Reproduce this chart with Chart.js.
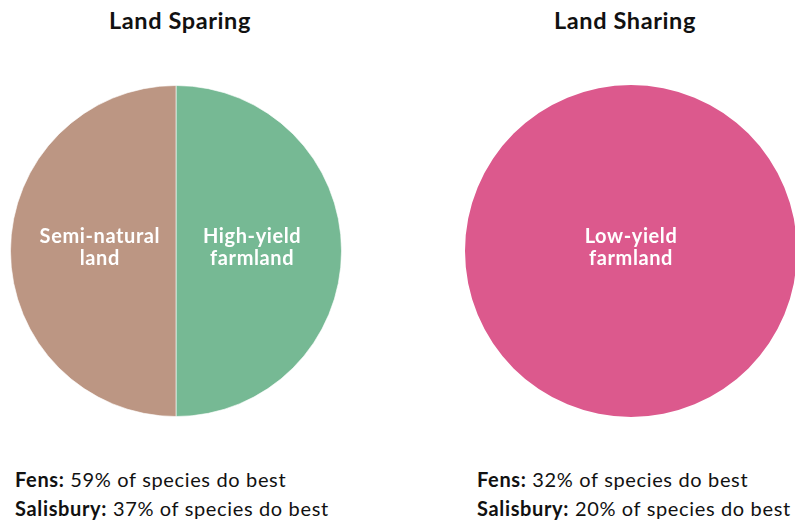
<!DOCTYPE html>
<html>
<head>
<meta charset="utf-8">
<script src="https://cdn.jsdelivr.net/npm/chart.js@4/dist/chart.umd.min.js"></script>
<style>
  html, body { margin: 0; padding: 0; background: #fff; }
  body { width: 795px; height: 522px; overflow: hidden; position: relative; font-family: Lato, "Open Sans", sans-serif; color: #111; }
  .title { position: absolute; top: 6px; font-weight: 700; font-size: 23.5px; letter-spacing: 0.6px; text-align: center; width: 360px; }
  .note { position: absolute; font-size: 20px; letter-spacing: 0.65px; line-height: 29px; white-space: nowrap; }
  .note b { font-weight: 700; }
  .pie { position: absolute; top: 85px; width: 332px; height: 332px; }
</style>
</head>
<body>
<div class="title" id="t1" style="left:0px;"></div>
<div class="title" id="t2" style="left:445px;"></div>
<div class="pie" style="left:10px;"><canvas id="c1" width="332" height="332"></canvas></div>
<div class="pie" style="left:465px;"><canvas id="c2" width="332" height="332"></canvas></div>
<div class="note" id="n1" style="left:15px; top:465px;"></div>
<div class="note" id="n2" style="left:477px; top:465px;"></div>
<script>
// ---- data ----
const chartTitles = ['Land Sparing', 'Land Sharing'];
const sparingCategories = [['High-yield', 'farmland'], ['Semi-natural', 'land']];
const sparingValues = [50, 50];
const sharingCategories = [['Low-yield', 'farmland']];
const sharingValues = [100];
const sites = ['Fens', 'Salisbury'];
const sparingSpeciesPct = [59, 37];
const sharingSpeciesPct = [32, 20];

// ---- text ----
document.getElementById('t1').textContent = chartTitles[0];
document.getElementById('t2').textContent = chartTitles[1];
function notes(el, pcts) {
  el.innerHTML = '';
  sites.forEach((s, i) => {
    const d = document.createElement('div');
    const b = document.createElement('b');
    b.textContent = s + ':';
    d.appendChild(b);
    d.appendChild(document.createTextNode(' ' + pcts[i] + '% of species do best'));
    el.appendChild(d);
  });
}
notes(document.getElementById('n1'), sparingSpeciesPct);
notes(document.getElementById('n2'), sharingSpeciesPct);

// ---- label plugin ----
const sliceLabels = {
  id: 'sliceLabels',
  afterDatasetsDraw(chart) {
    const ctx = chart.ctx;
    const meta = chart.getDatasetMeta(0);
    ctx.save();
    ctx.fillStyle = '#ffffff';
    ctx.font = '700 20px Lato, "Open Sans", sans-serif';
    if ('letterSpacing' in ctx) ctx.letterSpacing = '0.6px';
    ctx.textAlign = 'center';
    ctx.textBaseline = 'middle';
    meta.data.forEach((arc, i) => {
      const lines = chart.data.labels[i];
      const p = arc.getProps(['x', 'y', 'startAngle', 'endAngle', 'outerRadius'], true);
      let cx = p.x, cy = p.y - 3;
      if (p.endAngle - p.startAngle < Math.PI * 2 - 1e-6) {
        const mid = (p.startAngle + p.endAngle) / 2;
        const r = p.outerRadius * 0.46;
        cx = p.x + Math.cos(mid) * r;
        cy = p.y - 3 + Math.sin(mid) * r;
      }
      const lh = 22;
      lines.forEach((ln, j) => {
        ctx.fillText(ln, cx, cy + (j - (lines.length - 1) / 2) * lh);
      });
    });
    ctx.restore();
  }
};

function makePie(id, labels, values, colors, bw) {
  return new Chart(document.getElementById(id), {
    type: 'pie',
    data: {
      labels: labels,
      datasets: [{ data: values, backgroundColor: colors, borderColor: 'rgba(255,255,255,0.6)', borderWidth: bw, hoverOffset: 0 }]
    },
    options: {
      responsive: false,
      animation: false,
      layout: { padding: 0 },
      plugins: { legend: { display: false }, tooltip: { enabled: false }, title: { display: false } }
    },
    plugins: [sliceLabels]
  });
}
makePie('c1', sparingCategories, sparingValues, ['#76b994', '#bc9683'], 1);
makePie('c2', sharingCategories, sharingValues, ['#dc598d'], 0);
</script>
</body>
</html>
